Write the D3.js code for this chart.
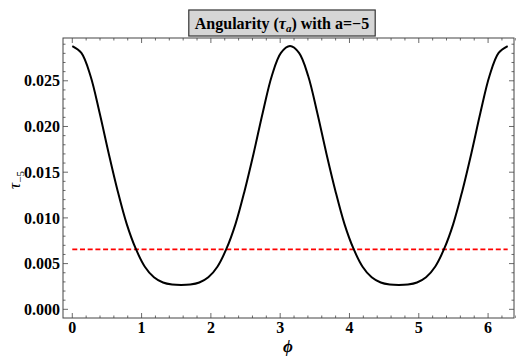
<!DOCTYPE html>
<html><head><meta charset="utf-8">
<script src="https://cdn.jsdelivr.net/npm/d3@7"></script>
<style>body{margin:0;background:#fff}svg{display:block}</style>
</head><body>
<svg id="c" width="516" height="356"></svg>
<script>
const phi = [0.000,0.131,0.262,0.393,0.524,0.654,0.785,0.916,1.047,1.178,1.309,1.440,1.571,
  1.702,1.833,1.963,2.094,2.225,2.356,2.487,2.618,2.749,2.880,3.011,3.142,
  3.272,3.403,3.534,3.665,3.796,3.927,4.058,4.189,4.320,4.451,4.581,4.712,
  4.843,4.974,5.105,5.236,5.367,5.498,5.629,5.760,5.890,6.021,6.152,6.283];
const tau = [0.02880,0.02805,0.02555,0.02153,0.01711,0.01298,0.00935,0.00663,0.00466,0.00350,0.00293,0.00271,0.00266,
  0.00271,0.00293,0.00350,0.00466,0.00663,0.00935,0.01298,0.01711,0.02153,0.02555,0.02805,0.02880,
  0.02805,0.02555,0.02153,0.01711,0.01298,0.00935,0.00663,0.00466,0.00350,0.00293,0.00271,0.00266,
  0.00271,0.00293,0.00350,0.00466,0.00663,0.00935,0.01298,0.01711,0.02153,0.02555,0.02805,0.02880];
const refLevel = [0.00656];
const xTicks = [0,1,2,3,4,5,6];
const yTicks = [0.000,0.005,0.010,0.015,0.020,0.025];

const svg = d3.select("#c");
const L=63, R=514, T=38, B=318;
const x = d3.scaleLinear().domain([-0.134, 6.374]).range([L, R]);
const y = d3.scaleLinear().domain([-0.00095, 0.02968]).range([B, T]);
const font = "'Liberation Serif','Times New Roman',serif";
const frameCol = "#444";

// frame
svg.append("rect").attr("x",L).attr("y",T).attr("width",R-L).attr("height",B-T)
  .attr("fill","none").attr("stroke",frameCol).attr("stroke-width",1);

// ticks
const xMinor = d3.range(0, 6.41, 0.2).filter(v => Math.abs(v - Math.round(v)) > 1e-6);
const yMinor = d3.range(0, 0.0296, 0.001).filter(v => Math.abs(v/0.005 - Math.round(v/0.005)) > 1e-6);
const tg = svg.append("g").attr("stroke",frameCol).attr("stroke-width",0.8);
function xt(v, len){
  tg.append("line").attr("x1",x(v)).attr("x2",x(v)).attr("y1",B).attr("y2",B-len);
  tg.append("line").attr("x1",x(v)).attr("x2",x(v)).attr("y1",T).attr("y2",T+len);
}
function yt(v, len){
  tg.append("line").attr("y1",y(v)).attr("y2",y(v)).attr("x1",L).attr("x2",L+len);
  tg.append("line").attr("y1",y(v)).attr("y2",y(v)).attr("x1",R).attr("x2",R-len);
}
xTicks.forEach(v=>xt(v,5)); xMinor.forEach(v=>xt(v,2.5));
yTicks.forEach(v=>yt(v,5)); yMinor.forEach(v=>yt(v,2.5));

// tick labels
svg.append("g").selectAll("text").data(xTicks).join("text")
  .attr("x",d=>x(d)).attr("y",333).attr("text-anchor","middle")
  .attr("font-family",font).attr("font-weight","bold").attr("font-size",16)
  .text(d=>d3.format("d")(d));
svg.append("g").selectAll("text").data(yTicks).join("text")
  .attr("x",60).attr("y",d=>y(d)).attr("dy","0.35em").attr("text-anchor","end")
  .attr("font-family",font).attr("font-weight","bold").attr("font-size",16)
  .text(d=>d3.format(".3f")(d));

// reference line
svg.append("line").attr("x1",x(0)).attr("x2",x(6.283))
  .attr("y1",y(refLevel[0])).attr("y2",y(refLevel[0]))
  .attr("stroke","#ff0000").attr("stroke-width",1.6).attr("stroke-dasharray","5,2.7");

// curve
const pts = phi.map((p,i)=>[p,tau[i]]);
svg.append("path").datum(pts)
  .attr("d", d3.line().x(d=>x(d[0])).y(d=>y(d[1])).curve(d3.curveCatmullRom.alpha(0.5)))
  .attr("fill","none").attr("stroke","#000").attr("stroke-width",2);

// axis labels
svg.append("text").attr("x",288).attr("y",352).attr("text-anchor","middle")
  .attr("font-family",font).attr("font-weight","bold").attr("font-style","italic").attr("font-size",17)
  .text("\u03D5");
const yl = svg.append("text").attr("transform","translate(20,180) rotate(-90)").attr("text-anchor","middle")
  .attr("font-family",font).attr("font-size",17);
yl.append("tspan").attr("font-style","italic").text("\u03C4");
yl.append("tspan").attr("font-size",11).attr("dy",4).text("\u22125");

// title box
const titleG = svg.append("g");
const boxRect = titleG.append("rect");
const tt = titleG.append("text").attr("x",282).attr("y",29).attr("text-anchor","middle")
  .attr("font-family",font).attr("font-weight","bold").attr("font-size",16);
tt.append("tspan").text("Angularity (");
tt.append("tspan").attr("font-style","italic").text("\u03C4");
tt.append("tspan").attr("font-style","italic").attr("font-size",11).attr("dy",3).text("a");
tt.append("tspan").attr("dy",-3).text(") with a=\u22125");
const bb = tt.node().getBBox();
boxRect.attr("x",bb.x-6).attr("y",10).attr("width",bb.width+12).attr("height",26)
  .attr("fill","#d6d6d6").attr("stroke","#333").attr("stroke-width",1.2);
</script>
</body></html>
